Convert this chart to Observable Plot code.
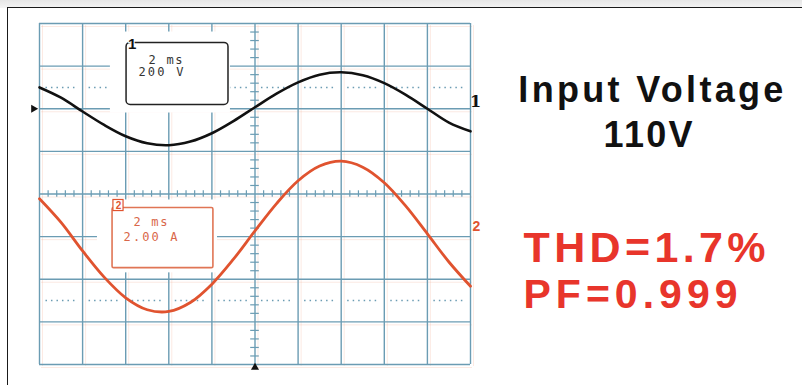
<!DOCTYPE html>
<html><head><meta charset="utf-8">
<script src="https://cdn.jsdelivr.net/npm/d3@7"></script>
<script src="https://cdn.jsdelivr.net/npm/@observablehq/plot@0.6"></script>
<style>
html,body{margin:0;padding:0;background:#fff;}
#wrap{position:relative;width:802px;height:385px;overflow:hidden;background:#fff;}
#band{position:absolute;left:0;top:0;width:802px;height:8px;background:linear-gradient(#e6e6e6,#f4f4f4);}
#frame{position:absolute;left:7px;top:7px;width:820px;height:400px;border-top:1.6px solid #1a1a1a;border-left:1.6px solid #1a1a1a;}
#chart{position:absolute;left:0;top:0;}
</style></head>
<body><div id="wrap"><div id="band"></div><div id="frame"></div><div id="chart"></div></div>
<script>
// ---- data ----
const timeMs   = [0,1,2,3,4,5,6,7,8,9,10,11,12,13,14,15,16,17,18,19,20];
const voltageV = [100,52,-13,-76,-129,-162,-171,-154,-115,-58,7,71,124,160,171,157,120,65,0,-65,-106];
const currentA = [1.78,0.67,-0.67,-1.90,-2.87,-3.43,-3.51,-3.09,-2.23,-1.06,0.27,1.55,2.62,3.31,3.54,3.26,2.53,1.43,0.13,-1.19,-2.33];
const xDivTicks = [0,2,4,6,8,10,12,14,16,18,20];   // ms, 2 ms/div
const yDivTicks = [-4,-3,-2,-1,0,1,2,3,4];          // divisions
const ch1Settings = ["2 ms", "200 V"];
const ch2Settings = ["2 ms", "2.00 A"];
const resultLines = ["Input Voltage", "110V", "THD=1.7%", "PF=0.999"];
const ch1 = {perDiv: 200, ground: 2};
const ch2 = {perDiv: 2, ground: -1};

const vData = timeMs.map((t, i) => ({t, v: voltageV[i]}));
const iData = timeMs.map((t, i) => ({t, a: currentA[i]}));
const minorX = d3.range(0, 20.001, 0.4).filter(d => Math.abs(d / 2 - Math.round(d / 2)) > 1e-6);
const minorY = d3.range(-4, 4.001, 0.2).filter(d => Math.abs(d - Math.round(d)) > 1e-6);
const dotSegs = [];
for (const y of [2.5, -2.5]) for (let k = 0; k < 10; k++) dotSegs.push({y, x1: xDivTicks[k] + 0.3, x2: xDivTicks[k] + 1.7});

const grid = "#6b9cb3";
const red = "#e0532f";
const mono = "DejaVu Sans Mono, monospace";
const sans = "Liberation Sans, Arial, sans-serif";

// annotation placement (in ms / division units)
const box1White = {x1: 3.29, x2: 8.86, y1: 3.80, y2: 1.90};
const box1 = {x1: 4.04, x2: 8.77, y1: 3.545, y2: 2.09};
const box2White = {x1: 2.69, x2: 8.26, y1: -0.14, y2: -1.85};
const box2 = {x1: 3.39, x2: 8.07, y1: -0.33, y2: -1.74};
const box1Text = [{text: ch1Settings[0], x: 5.06, y: 3.15, len: 34}, {text: ch1Settings[1], x: 4.59, y: 2.85, len: 45}];
const box2Text = [{text: ch2Settings[0], x: 4.36, y: -0.66, len: 34}, {text: ch2Settings[1], x: 3.90, y: -1.01, len: 54}];
const bigBlack = [{text: resultLines[0], x: 28.37, y: 2.16, len: 265}, {text: resultLines[1], x: 28.24, y: 1.10, len: 89}];
const bigRed = [{text: resultLines[2], x: 22.46, y: -1.596, len: 242, size: 43}, {text: resultLines[3], x: 22.46, y: -2.676, len: 214, size: 41}];

const plot = Plot.plot({
  width: 802, height: 385,
  marginLeft: 39, marginRight: 332, marginTop: 23, marginBottom: 21,
  x: {domain: [0, 20], axis: null},
  y: {domain: [-4, 4], axis: null},
  style: {background: "transparent", overflow: "visible"},
  marks: [
    // faint misregistered print ghost
    Plot.ruleX(xDivTicks, {stroke: "#f0a080", strokeOpacity: 0.22, dx: 3, dy: 2}),
    Plot.ruleY(yDivTicks, {stroke: "#f0a080", strokeOpacity: 0.22, dx: 2, dy: 3}),
    // graticule
    Plot.ruleX(xDivTicks, {stroke: grid, strokeWidth: 1.4}),
    Plot.ruleY(yDivTicks, {stroke: grid, strokeWidth: 1.4}),
    Plot.ruleX(minorX, {x: d => d, y1: -0.075, y2: 0.075, stroke: grid, strokeWidth: 1.2}),
    Plot.ruleY(minorY, {y: d => d, x1: 9.8, x2: 10.2, stroke: grid, strokeWidth: 1.2}),
    Plot.ruleY(dotSegs, {y: "y", x1: "x1", x2: "x2", stroke: grid, strokeWidth: 1.5, strokeDasharray: "1.5,4"}),
    // setting boxes
    Plot.rect([box1White], {x1: "x1", x2: "x2", y1: "y1", y2: "y2", fill: "white"}),
    Plot.rect([box2White], {x1: "x1", x2: "x2", y1: "y1", y2: "y2", fill: "white"}),
    Plot.rect([box1], {x1: "x1", x2: "x2", y1: "y1", y2: "y2", fill: "white", stroke: "#222", strokeWidth: 1.5, rx: 4}),
    Plot.rect([box2], {x1: "x1", x2: "x2", y1: "y1", y2: "y2", fill: "white", stroke: "#e07555", strokeWidth: 1.6, rx: 1.5}),
    Plot.text(box1Text, {x: "x", y: "y", text: "text", textAnchor: "start", fontFamily: mono, fontSize: 12, fill: "#333", ariaDescription: "b1"}),
    Plot.text(box2Text, {x: "x", y: "y", text: "text", textAnchor: "start", fontFamily: mono, fontSize: 12, fill: "#d9674a", ariaDescription: "b2"}),
    Plot.text(["1"], {x: 4.3, y: 3.52, text: d => d, fontFamily: sans, fontWeight: "bold", fontSize: 15, fill: "#111", stroke: "white", strokeWidth: 2}),
    Plot.rect([0], {x1: 3.43, x2: 3.90, y1: -0.14, y2: -0.40, fill: "white", stroke: red, strokeWidth: 1.2}),
    Plot.text(["2"], {x: 3.665, y: -0.27, text: d => d, fontFamily: sans, fontWeight: "bold", fontSize: 10, fill: red}),
    // traces
    Plot.line(vData, {x: "t", y: d => ch1.ground + d.v / ch1.perDiv, curve: "catmull-rom", stroke: "#111", strokeWidth: 2.6}),
    Plot.line(iData, {x: "t", y: d => ch2.ground + d.a / ch2.perDiv, curve: "catmull-rom", stroke: red, strokeWidth: 2.8}),
    // markers and channel labels
    Plot.dot([0], {x: 0, y: ch1.ground, dx: -6, symbol: "triangle", rotate: 90, r: 3, fill: "#111"}),
    Plot.dot([0], {x: 10, y: -4, dy: 3, symbol: "triangle", r: 3, fill: "#111"}),
    Plot.text(["1"], {x: 20, y: ch1.ground, dx: 5, dy: -7, text: d => d, fontFamily: "DejaVu Serif, serif", fontWeight: "bold", fontSize: 16, fill: "#111"}),
    Plot.text(["2"], {x: 20, y: ch2.ground, dx: 6, dy: -10, text: d => d, fontFamily: sans, fontWeight: "bold", fontSize: 14, fill: red}),
    // result texts
    Plot.text(bigBlack, {x: "x", y: "y", text: "text", lineAnchor: "bottom", textAnchor: "middle", fontFamily: sans, fontWeight: "bold", fontSize: 36, fill: "#111", ariaDescription: "bb"}),
    Plot.text(bigRed, {x: "x", y: "y", text: "text", lineAnchor: "bottom", textAnchor: "start", fontFamily: sans, fontWeight: "bold", fontSize: d => d.size, fill: "#e8352b", ariaDescription: "br"})
  ]
});

const setLen = (tag, arr) => {
  d3.select(plot).selectAll(`g[aria-description="${tag}"] text`).each(function(_, k) {
    this.setAttribute("textLength", arr[k].len);
    this.setAttribute("lengthAdjust", "spacing");
  });
};
setLen("b1", box1Text); setLen("b2", box2Text); setLen("bb", bigBlack); setLen("br", bigRed);
document.getElementById("chart").appendChild(plot);
</script>
</body></html>
